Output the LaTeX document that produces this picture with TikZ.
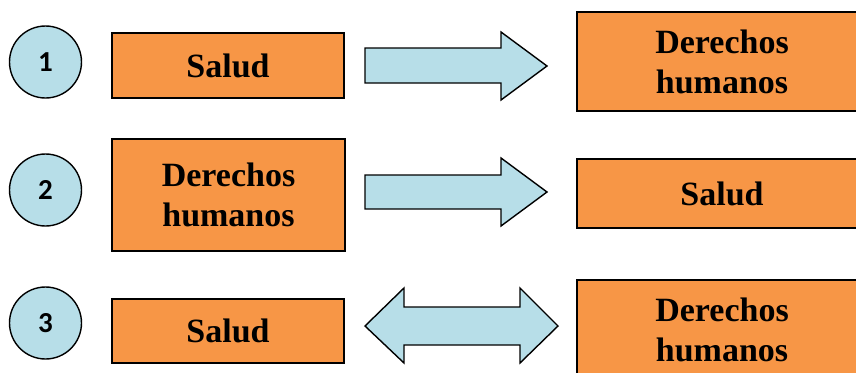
\documentclass[tikz,border=0pt]{standalone}
\usepackage{fontspec}
\setmainfont{Liberation Serif}
\newfontfamily\numfont{Carlito}
\definecolor{boxorange}{HTML}{F79646}
\definecolor{lightblue}{HTML}{B7DEE8}

\begin{document}
\begin{tikzpicture}[x=1pt, y=-1pt, line width=1.4pt,
    box/.style={draw, fill=boxorange, inner sep=0pt, align=center, font=\fontsize{34}{40}\selectfont\bfseries},
    num/.style={draw, circle, fill=lightblue, minimum size=72pt, inner sep=0pt, font=\numfont\fontsize{29}{29}\selectfont\bfseries},
    arr/.style={draw, fill=lightblue, line join=miter}]
    \useasboundingbox (0,0) rectangle (856,372);
    \clip (0,0) rectangle (856,372);

    \node[num] (c1) at (45.5,62) {1};
    \node[num] (c2) at (45.5,190) {2};
    \node[num] (c3) at (45.5,323) {3};

    \node[box, minimum width=232pt, minimum height=65pt] (l1) at (228,65.5) {Salud};
    \node[box, minimum width=233pt, minimum height=112pt] (l2) at (228.5,195) {Derechos\\humanos};
    \node[box, minimum width=232pt, minimum height=64pt] (l3) at (228,331) {Salud};

    \node[box, minimum width=290pt, minimum height=99pt] (r1) at (722,61.5) {Derechos\\humanos};
    \node[box, minimum width=290pt, minimum height=69pt] (r2) at (722,193.5) {Salud};
    \node[box, minimum width=290pt, minimum height=100pt] (r3) at (722,330) {Derechos\\humanos};

    % block arrows
    \draw[arr] (365,48) -- (501,48) -- (501,32) -- (547,66) -- (501,100) -- (501,83) -- (365,83) -- cycle;
    \draw[arr] (365,175) -- (501,175) -- (501,158) -- (547,192) -- (501,226) -- (501,209) -- (365,209) -- cycle;
    \draw[arr] (365,326) -- (404,288) -- (404,307) -- (520,307) -- (520,288) -- (558,326)
        -- (520,363) -- (520,345) -- (404,345) -- (404,363) -- cycle;
\end{tikzpicture}
\end{document}
